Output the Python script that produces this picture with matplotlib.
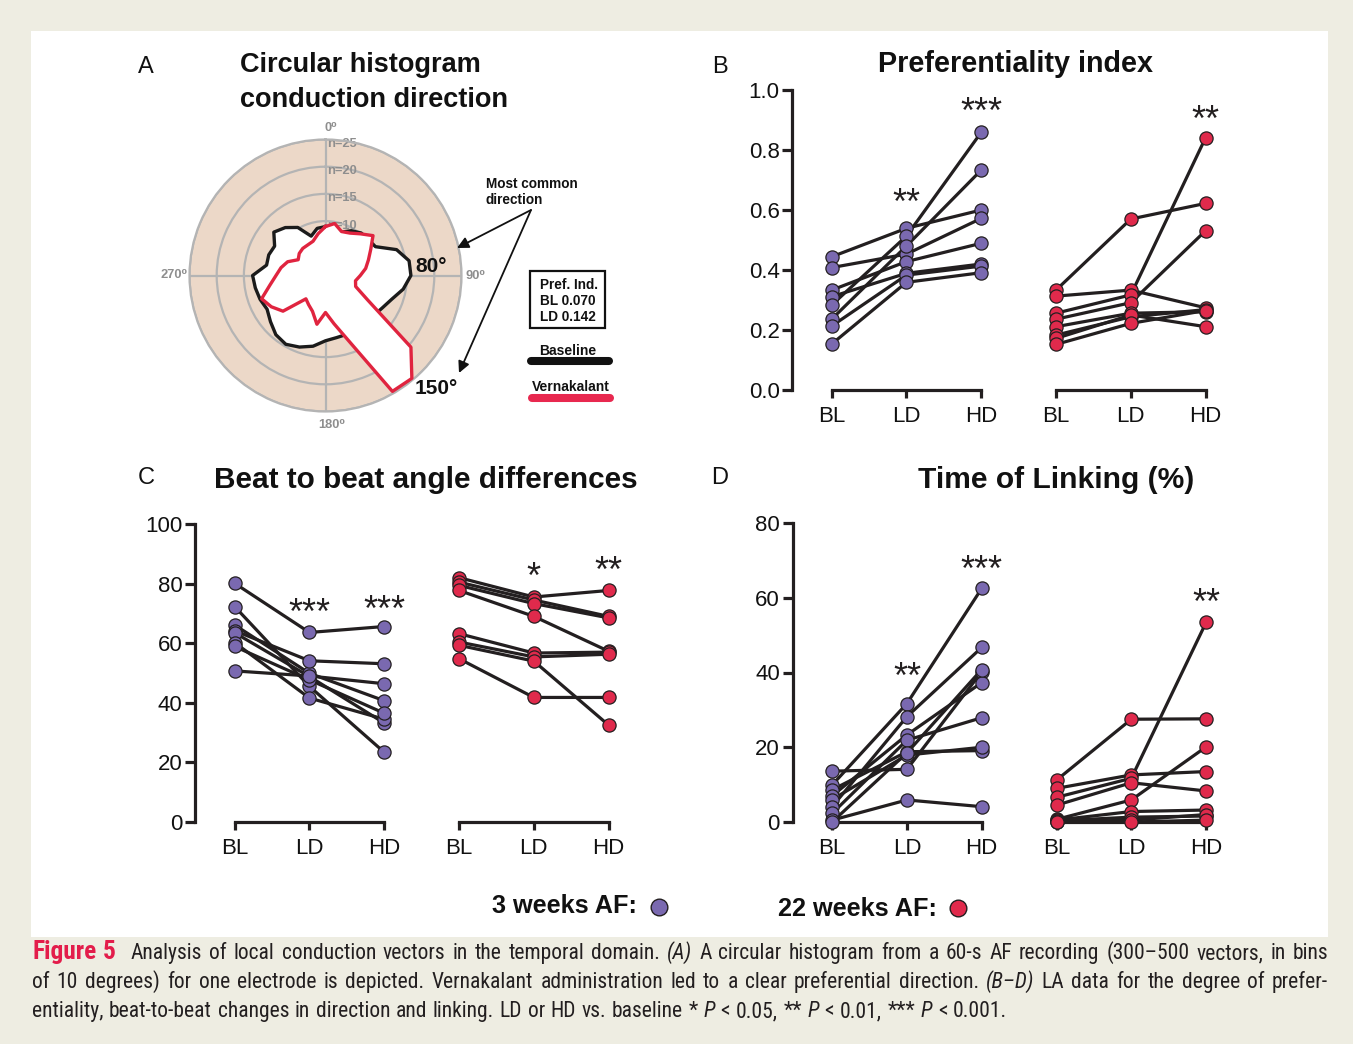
import numpy as np
import matplotlib
matplotlib.use('Agg')
import matplotlib.pyplot as plt
from matplotlib.patches import Rectangle
from matplotlib import font_manager

plt.rcParams['font.family'] = ['Liberation Sans', 'DejaVu Sans']

W, H = 1353, 1044
PURPLE = '#7a69b0'
RED = '#e02a4c'
DARK = '#231f20'
TAN = '#ecd8c8'
GRID = '#b4b4b4'
BEIGE = '#eeede2'
FIG_RED = '#e31d4b'

# ---------------- Panel A data (counts per 10 degree bin) ----------------
bin_angles_deg = list(range(0, 360, 10))
baseline_counts = [9.0, 8.7, 8.5, 9.5, 10.2, 10.3, 10.6, 13.9, 15.6, 15.7, 14.5, 12.9,
                   12.0, 11.5, 11.7, 11.5, 11.5, 11.6, 12.0, 13.2, 14.0, 14.6, 14.2, 13.2,
                   12.4, 12.8, 13.1, 13.4, 11.0, 11.1, 10.8, 12.4, 11.5, 10.2, 7.7, 8.8]
vernakalant_counts = [9.0, 9.7, 8.6, 9.0, 10.0, 11.4, 9.6, 8.4, 7.5, 6.4, 5.6, 5.9,
                      8.9, 20.5, 24.7, 24.6, 13.0, 9.0, 6.8, 9.1, 7.0, 6.2, 5.6, 10.2,
                      11.5, 12.5, 10.4, 9.1, 8.3, 7.4, 5.8, 6.3, 6.5, 6.5, 6.7, 7.8]
ring_levels = [5, 10, 15, 20, 25]
ring_labels = ['n=10', 'n=15', 'n=20', 'n=25']
pref_index_text = ['Pref. Ind.', 'BL 0.070', 'LD 0.142']

conditions = ['BL', 'LD', 'HD']

# ---------------- Panel B: preferentiality index (BL, LD, HD per subject) ----------------
pref_3w = [[0.444, 0.539, 0.600], [0.408, 0.453, 0.572], [0.333, 0.428, 0.489],
           [0.311, 0.389, 0.420], [0.283, 0.513, 0.859], [0.236, 0.480, 0.733],
           [0.213, 0.383, 0.413], [0.153, 0.359, 0.391]]
pref_22w = [[0.333, 0.570, 0.622], [0.313, 0.333, 0.274], [0.256, 0.317, 0.841],
            [0.236, 0.291, 0.531], [0.211, 0.256, 0.261], [0.183, 0.244, 0.268],
            [0.172, 0.250, 0.211], [0.152, 0.222, 0.265]]
pref_stars = [(1, 0.657, '**'), (2, 0.96, '***'), (5, 0.933, '**')]

# ---------------- Panel C: beat to beat angle differences ----------------
angle_3w = [[80.1, 63.6, 65.6], [72.3, 45.5, 23.4], [66.1, 49.9, 40.7], [64.2, 54.1, 53.1],
            [63.5, 48.8, 33.2], [60.2, 41.6, 34.5], [58.9, 47.7, 36.5], [50.7, 49.0, 46.4]]
angle_22w = [[82.0, 75.5, 77.7], [80.5, 74.5, 69.0], [79.4, 73.3, 68.5], [77.7, 69.0, 57.3],
             [63.2, 56.7, 57.0], [60.4, 55.4, 56.3], [59.3, 54.0, 32.5], [54.8, 41.8, 41.8]]
angle_stars = [(1, 73.4, '***'), (2, 74.4, '***'), (4, 85.4, '*'), (5, 87.4, '**')]

# ---------------- Panel D: time of linking (%) ----------------
link_3w = [[13.6, 14.1, 40.2], [9.9, 31.7, 62.5], [8.6, 18.8, 19.1], [7.0, 23.3, 37.3],
           [6.0, 17.9, 20.0], [4.1, 28.2, 46.7], [2.3, 21.9, 27.9], [0.5, 5.9, 4.1],
           [0.0, 18.5, 40.8]]
link_22w = [[11.2, 27.5, 27.6], [9.0, 12.6, 13.5], [6.6, 11.7, 53.4], [4.5, 10.5, 8.3],
            [0.7, 5.9, 20.1], [0.5, 2.8, 3.2], [0.3, 1.3, 1.6], [0.0, 0.5, 2.0],
            [0.0, 0.0, 0.5]]
link_stars = [(1, 41.5, '**'), (2, 70.1, '***'), (5, 61.3, '**')]

# ---------------- caption ----------------
cap_lines = [
    [("Figure 5", "fig"), ("Analysis of local conduction vectors in the temporal domain.", "n"),
     ("(A)", "i"), ("A circular histogram from a 60-s AF recording (300\u2013500 vectors, in bins", "n")],
    [("of 10 degrees) for one electrode is depicted. Vernakalant administration led to a clear preferential direction.", "n"),
     ("(B\u2013D)", "i"), ("LA data for the degree of prefer-", "n")],
    [("entiality, beat-to-beat changes in direction and linking. LD or HD vs. baseline *", "n"),
     ("P", "i"), ("< 0.05, **", "n"), ("P", "i"), ("< 0.01, ***", "n"), ("P", "i"), ("< 0.001.", "n")],
]

# choose a narrow family for the caption if one is installed
_ttf = font_manager.fontManager.ttflist
_names = {f.name for f in _ttf}
CAP_FAMILY = ['Liberation Sans', 'DejaVu Sans']
CAP_STRETCH = 'normal'
for cand in ['Liberation Sans Narrow', 'Roboto Condensed', 'Open Sans Condensed', 'DejaVu Sans Condensed']:
    if cand in _names:
        CAP_FAMILY = [cand, 'DejaVu Sans']
        break
else:
    if any(f.name == 'DejaVu Sans' and 'Condensed' in f.fname for f in _ttf):
        CAP_FAMILY = ['DejaVu Sans']
        CAP_STRETCH = 'condensed'

# ======================================================================
fig = plt.figure(figsize=(W / 100, H / 100), dpi=100)
fig.patch.set_facecolor(BEIGE)

bg = fig.add_axes([0, 0, 1, 1], label='bg')
bg.set_xlim(0, W); bg.set_ylim(H, 0); bg.axis('off')
bg.add_patch(Rectangle((31, 31), 1297, 906, facecolor='white', edgecolor='none'))

# ---------------- Panel A: polar ----------------
cx, cy, R = 325.5, 275.5, 136
axA = fig.add_axes([(cx - R) / W, 1 - (cy + R) / H, 2 * R / W, 2 * R / H], projection='polar')
axA.set_theta_zero_location('N')
axA.set_theta_direction(-1)
axA.set_facecolor(TAN)
axA.set_ylim(0, 25)
axA.set_yticks(ring_levels)
axA.set_yticklabels([])
axA.set_xticks(np.deg2rad([0, 90, 180, 270]))
axA.set_xticklabels([])
axA.set_axisbelow(True)
axA.grid(True, color=GRID, lw=1.6)
axA.spines['polar'].set_edgecolor(GRID)
axA.spines['polar'].set_linewidth(1.6)
axA.tick_params(length=0)

th = np.deg2rad(bin_angles_deg + [bin_angles_deg[0]])
rb = baseline_counts + [baseline_counts[0]]
rv = vernakalant_counts + [vernakalant_counts[0]]
axA.fill(th, rb, facecolor='white', edgecolor='none', zorder=2)
axA.plot(th, rb, color='#1b1b1b', lw=2.4, zorder=3)
axA.fill(th, rv, facecolor='white', edgecolor='none', zorder=4)
axA.plot(th, rv, color='#e0243f', lw=2.4, zorder=5)
for lvl, lab in zip(ring_levels[1:], ring_labels):
    axA.annotate(lab, xy=(0, lvl), xytext=(1.2, -3.2), textcoords='offset points',
                 ha='left', va='center', fontsize=9.3, fontweight='bold', color='#8e8e8e',
                 zorder=1.5, annotation_clip=False)

# ---------------- paired panels ----------------
STAR_FS = 26


def pair_panel(left_px, top_px, bottom_px, ylim, yticks, ylabels, d3, d22, stars):
    ax = fig.add_axes([left_px / W, 1 - bottom_px / H, 451 / W, (bottom_px - top_px) / H])
    ax.set_facecolor('none')
    ax.set_xlim(-0.53, 5.5)
    ax.set_ylim(*ylim)
    for s in ['top', 'right', 'bottom']:
        ax.spines[s].set_visible(False)
    ax.spines['left'].set_linewidth(2.3)
    ax.spines['left'].set_color(DARK)
    ax.spines['left'].set_bounds(*ylim)
    ax.set_yticks(yticks)
    ax.set_yticklabels(ylabels)
    ax.set_xticks(range(6))
    ax.set_xticklabels(conditions * 2)
    ax.tick_params(axis='y', direction='out', length=7, width=2.3, color=DARK,
                   labelsize=16, pad=2, labelcolor='#111111')
    ax.tick_params(axis='x', direction='out', length=6, width=2.3, color=DARK,
                   labelsize=16, pad=5.5, labelcolor='#111111')
    for g in (0, 3):
        ax.plot([g, g + 2], [ylim[0], ylim[0]], color=DARK, lw=2.3, clip_on=False,
                solid_capstyle='projecting', zorder=1)
    x1, x2 = [0, 1, 2], [3, 4, 5]
    for s in d3:
        ax.plot(x1, s, color=DARK, lw=2.3, zorder=2, clip_on=False)
    for s in d22:
        ax.plot(x2, s, color=DARK, lw=2.3, zorder=2, clip_on=False)
    for s in d3:
        ax.plot(x1, s, ls='none', marker='o', ms=9.5, mfc=PURPLE, mec=DARK, mew=0.9,
                zorder=3, clip_on=False)
    for s in d22:
        ax.plot(x2, s, ls='none', marker='o', ms=9.5, mfc=RED, mec=DARK, mew=0.9,
                zorder=3, clip_on=False)
    for xi, yv, txt in stars:
        ax.annotate(txt, xy=(xi, yv), xytext=(0, -0.57 * STAR_FS), textcoords='offset points',
                    ha='center', va='baseline', fontsize=STAR_FS, color=DARK,
                    annotation_clip=False)
    return ax


pair_panel(792, 90, 390, (0, 1.0), [0, 0.2, 0.4, 0.6, 0.8, 1.0],
           ['0.0', '0.2', '0.4', '0.6', '0.8', '1.0'], pref_3w, pref_22w, pref_stars)
pair_panel(195, 524, 822, (0, 100), [0, 20, 40, 60, 80, 100],
           ['0', '20', '40', '60', '80', '100'], angle_3w, angle_22w, angle_stars)
pair_panel(792.5, 523, 822, (0, 80), [0, 20, 40, 60, 80],
           ['0', '20', '40', '60', '80'], link_3w, link_22w, link_stars)

# ---------------- overlay (pixel coordinates) ----------------
ov = fig.add_axes([0, 0, 1, 1], label='overlay')
ov.set_xlim(0, W); ov.set_ylim(H, 0); ov.axis('off')
ov.patch.set_visible(False)

# panel letters
for lab, x, y in [('A', 146, 73), ('B', 720, 73), ('C', 146, 484), ('D', 720, 484)]:
    ov.text(x, y, lab, fontsize=17, ha='center', va='baseline', color='#111111')

# titles
ov.text(240, 72, 'Circular histogram', fontsize=19.5, fontweight='bold', ha='left', va='baseline', color='#111111')
ov.text(240, 107, 'conduction direction', fontsize=19.5, fontweight='bold', ha='left', va='baseline', color='#111111')
ov.text(1015, 72, 'Preferentiality index', fontsize=20.7, fontweight='bold', ha='center', va='baseline', color='#111111')
ov.text(426, 488, 'Beat to beat angle differences', fontsize=21.4, fontweight='bold', ha='center', va='baseline', color='#111111')
ov.text(1056, 488, 'Time of Linking (%)', fontsize=21.6, fontweight='bold', ha='center', va='baseline', color='#111111')

# polar angle labels
for txt, x, y in [('0\u2070', 331, 128), ('90\u2070', 475, 276), ('180\u2070', 332, 425), ('270\u2070', 174, 275)]:
    ov.text(x, y, txt, fontsize=9.3, fontweight='bold', color='#8e8e8e', ha='center', va='center')

ov.text(431, 266, '80\u00b0', fontsize=15, fontweight='bold', ha='center', va='center', color='#111111')
ov.text(436, 388, '150\u00b0', fontsize=15, fontweight='bold', ha='center', va='center', color='#111111')

ov.text(486, 184.5, 'Most common', fontsize=9.8, fontweight='bold', ha='left', va='center', color='#111111')
ov.text(486, 200.5, 'direction', fontsize=9.8, fontweight='bold', ha='left', va='center', color='#111111')
for tip in [(457, 248), (459, 373)]:
    ov.annotate('', xy=tip, xytext=(531, 210),
                arrowprops=dict(arrowstyle='-|>', color='#111111', lw=1.3, mutation_scale=17,
                                shrinkA=0, shrinkB=0))

ov.add_patch(Rectangle((530, 271), 75, 57, facecolor='white', edgecolor='#111111', lw=1.6))
for i, line in enumerate(pref_index_text):
    ov.text(540, 285 + 15.8 * i, line, fontsize=9.8, fontweight='bold', ha='left', va='center', color='#111111')

ov.text(568, 351, 'Baseline', fontsize=10, fontweight='bold', ha='center', va='center', color='#111111')
ov.plot([531, 609], [361, 361], color='#111111', lw=5.8, solid_capstyle='round')
ov.text(571, 387, 'Vernakalant', fontsize=10, fontweight='bold', ha='center', va='center', color='#111111')
ov.plot([532, 610], [398, 398], color='#e8284f', lw=5.8, solid_capstyle='round')

# group legend
ov.text(492, 906, '3 weeks AF:', fontsize=18.2, fontweight='bold', ha='left', va='center', color='#111111')
ov.plot([659], [907], ls='none', marker='o', ms=12, mfc=PURPLE, mec=DARK, mew=1.0)
ov.text(778, 909, '22 weeks AF:', fontsize=18.2, fontweight='bold', ha='left', va='center', color='#111111')
ov.plot([958], [908], ls='none', marker='o', ms=12, mfc=RED, mec=DARK, mew=1.0)

# ---------------- caption layout ----------------
renderer = fig.canvas.get_renderer()
base = dict(family=CAP_FAMILY, stretch=CAP_STRETCH)
styles = {'n': dict(color='#231f20', **base),
          'i': dict(color='#231f20', fontstyle='italic', **base),
          'fig': dict(color=FIG_RED, fontweight='bold', **base)}
FIG_SCALE = 1.18
cap_baselines = [959, 988, 1017]
cap_fs = 14.0
line_objs = []
for li, segs in enumerate(cap_lines):
    objs = []
    for seg, st in segs:
        for w in seg.split(' '):
            if w:
                t = ov.text(0, cap_baselines[li], w, fontsize=cap_fs, ha='left', va='baseline', **styles[st])
                objs.append((t, st))
    line_objs.append(objs)

x_left, x_right = 32, 1328
target = x_right - x_left
FIG_EXTRA = 8


def measure(objs):
    return [t.get_window_extent(renderer).width for t, _ in objs]


def space_px(fs):
    return 0.26 * fs * 100 / 72


def set_sizes(fs):
    for o in line_objs:
        for t, st in o:
            t.set_fontsize(fs * FIG_SCALE if st == 'fig' else fs)

set_sizes(cap_fs)
nat = max(sum(measure(o)) + space_px(cap_fs) * (len(o) - 1) + FIG_EXTRA for o in line_objs[:2])
cap_fs = min(15.5, cap_fs * target * 0.985 / nat)
set_sizes(cap_fs)

for li, objs in enumerate(line_objs):
    ws = measure(objs)
    extra = sum(FIG_EXTRA for t, st in objs if st == 'fig' and t.get_text() == '5')
    if li < 2:
        gap = (target - sum(ws) - extra) / (len(objs) - 1)
    else:
        gap = space_px(cap_fs)
    x = x_left
    for (t, st), w in zip(objs, ws):
        t.set_x(x)
        x += w + gap
        if st == 'fig' and t.get_text() == '5':
            x += FIG_EXTRA

fig.savefig('out.png', dpi=100, facecolor=fig.get_facecolor())
